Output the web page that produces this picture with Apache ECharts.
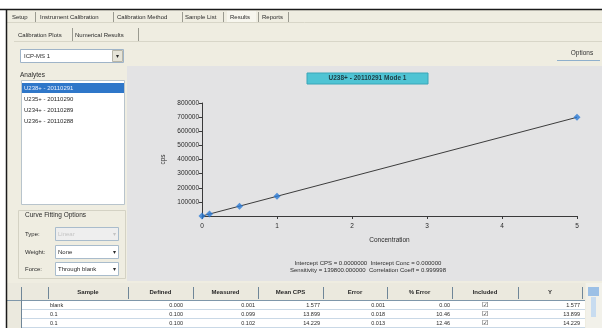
<!DOCTYPE html>
<html>
<head>
<meta charset="utf-8">
<script src="https://cdn.jsdelivr.net/npm/echarts@6/dist/echarts.min.js"></script>
<style>
  html, body { margin: 0; padding: 0; background: #ffffff; }
  #chart { width: 602px; height: 328px; }
</style>
</head>
<body>
<div id="chart"></div>
<script>
// Calibration standards: concentration vs. mean counts per second
const standardConc = [0, 0.1, 0.5, 1, 5];
const standardCps = [1.577, 13899, 69800, 139400, 699000];

// Fitted calibration line (through blank) drawn across the concentration range
const fitConc = [0, 5];
const fitCps = [0, 699000];

// Axis ticks
const xTicks = [0, 1, 2, 3, 4, 5];
const yTicks = [0, 100000, 200000, 300000, 400000, 500000, 600000, 700000, 800000];

// Window text
const mainTabs = ['Setup', 'Instrument Calibration', 'Calibration Method', 'Sample List', 'Results', 'Reports'];
const subTabs = ['Calibration Plots', 'Numerical Results'];
const analytes = ['U238+ - 20110291', 'U235+ - 20110290', 'U234+ - 20110289', 'U236+ - 20110288'];
const plotTitle = 'U238+ - 20110291 Mode 1';
const fitLines = [
  'Intercept CPS = 0.0000000  Intercept Conc = 0.000000',
  'Sensitivity = 139800.000000  Correlation Coeff = 0.999998'
];

// Numerical results table
const tableHeaders = ['Sample', 'Defined', 'Measured', 'Mean CPS', 'Error', '% Error', 'Included', 'Y'];
const tableSamples = ['blank', '0.1', '0.1'];
const tableDefined = ['0.000', '0.100', '0.100'];
const tableMeasured = ['0.001', '0.099', '0.102'];
const tableMeanCps = ['1.577', '13.899', '14.229'];
const tableError = ['0.001', '0.018', '0.013'];
const tablePctError = ['0.00', '10.46', '12.46'];
const tableY = ['1.577', '13.899', '14.229'];

const FONT = 'Liberation Sans';
const g = [];
function rect(x, y, w, h, fill, stroke, z) {
  g.push({ type: 'rect', shape: { x: x, y: y, width: w, height: h }, z: z == null ? -5 : z,
    style: { fill: fill || 'none', stroke: stroke || 'none', lineWidth: 1 }, silent: true });
}
function line(x1, y1, x2, y2, color, w, z) {
  g.push({ type: 'line', shape: { x1: x1, y1: y1, x2: x2, y2: y2 }, z: z == null ? -4 : z,
    style: { stroke: color, lineWidth: w || 1 }, silent: true });
}
function txt(x, y, s, opt) {
  opt = opt || {};
  g.push({ type: 'text', x: x, y: y, z: 20, silent: true,
    style: { text: s, fill: opt.color || '#2a2a2a', font: (opt.bold ? 'bold ' : '') + (opt.size || 7) + 'px ' + FONT,
      textAlign: opt.align || 'left', textVerticalAlign: 'middle' } });
}

// Window frame and background
rect(0, 0, 602, 328, '#ffffff', null, -10);
rect(7, 10, 595, 318, '#efede1', null, -9);
line(0, 9.5, 602, 9.5, '#1a1a1a', 1.5, -3);
line(6.5, 9, 6.5, 328, '#1a1a1a', 1.5, -3);

// Main tabs
const tabX = [12, 40, 117, 185, 230, 262];
const tabSep = [35, 113, 182, 223, 258, 288];
mainTabs.forEach(function (t, i) {
  if (i === 4) rect(tabX[i] - 3, 11, tabSep[i] - tabX[i] + 1, 12, '#f7f6ee', null, -6);
  txt(tabX[i], 17, t, { size: 6 });
  line(tabSep[i] + 0.5, 12, tabSep[i] + 0.5, 22, '#9a9a90');
});
line(7, 22.5, 602, 22.5, '#d8d6c8');

// Sub tabs
const subX = [18, 75];
const subSep = [72, 138];
subTabs.forEach(function (t, i) {
  txt(subX[i], 35, t, { size: 6 });
  line(subSep[i] + 0.5, 28, subSep[i] + 0.5, 41, '#9a9a90');
});
line(14, 41.5, 602, 41.5, '#d8d6c8');

// Instrument selector
rect(20.5, 49.5, 103, 13, '#ffffff', '#9fb4c8');
rect(112.5, 50.5, 10, 11, '#e6e4d8', '#b8b6a8');
txt(24, 56, 'ICP-MS 1', { size: 6 });
txt(117.5, 56, '▾', { size: 6, align: 'center' });

// Options button on the right
txt(582, 53, 'Options', { size: 6.5, align: 'center', color: '#333333' });
line(557, 60.5, 600, 60.5, '#8fb0cc');

// Plot panel
rect(127, 66, 475, 215, '#e3e3e4', null, -8);

// Analyte list
txt(20, 75, 'Analytes', { size: 6.5 });
rect(21.5, 80.5, 103, 124, '#ffffff', '#b8c4cc');
rect(22, 83, 102, 10, '#2f77c9', null, -4);
analytes.forEach(function (a, i) {
  txt(24, 88 + i * 11, a, { size: 6, color: i === 0 ? '#e8f0ff' : '#2a2a2a' });
});

// Curve fitting options
rect(18.5, 210.5, 107, 68, 'none', '#d4d2c4');
txt(25, 215, 'Curve Fitting Options', { size: 6.5 });
const fitLabels = ['Type:', 'Weight:', 'Force:'];
const fitValues = ['Linear', 'None', 'Through blank'];
[234, 252, 269].forEach(function (y, i) {
  txt(25, y, fitLabels[i], { size: 6 });
  rect(55.5, y - 6.5, 63, 13, i === 0 ? '#eeeeee' : '#ffffff', '#a9bccc');
  txt(58, y, fitValues[i], { size: 6, color: i === 0 ? '#c4c4c4' : '#2a2a2a' });
  txt(114, y, '▾', { size: 6, align: 'center', color: i === 0 ? '#c4c4c4' : '#2a2a2a' });
});

// Plot title box
rect(307, 73, 121, 11, '#4fc4d4', '#3aa6b8', -2);
txt(367.5, 78.5, plotTitle, { size: 6.5, bold: true, align: 'center', color: '#1e3c44' });

// Fit statistics below the plot
fitLines.forEach(function (s, i) {
  txt(368, 263 + i * 7, s, { size: 6, align: 'center', color: '#2c2c2c' });
});

// Results table
rect(7, 283, 578, 45, '#ffffff', null, -7);
rect(7, 283, 578, 17, '#ebe9de', null, -6);
rect(7, 300, 14, 28, '#ebe9de', null, -6);
line(7, 300.5, 585, 300.5, '#7f97aa');
[309.5, 318.5, 327.5].forEach(function (y) { line(21, y, 585, y, '#c9d8e6'); });
const colEdges = [21, 48, 128, 193, 258, 323, 387, 452, 518, 582];
colEdges.forEach(function (x) { line(x + 0.5, 287, x + 0.5, x === 21 ? 328 : 299, '#6f8698'); });
tableHeaders.forEach(function (h, i) {
  txt((colEdges[i + 1] + colEdges[i + 2]) / 2, 292, h, { size: 6, bold: true, align: 'center' });
});
const rowsY = [305, 314, 323];
tableSamples.forEach(function (s, r) {
  const y = rowsY[r];
  txt(50, y, s, { size: 5.5 });
  txt(183, y, tableDefined[r], { size: 5.5, align: 'right' });
  txt(255, y, tableMeasured[r], { size: 5.5, align: 'right' });
  txt(320, y, tableMeanCps[r], { size: 5.5, align: 'right' });
  txt(385, y, tableError[r], { size: 5.5, align: 'right' });
  txt(450, y, tablePctError[r], { size: 5.5, align: 'right' });
  txt(485, y, '☑', { size: 6.5, align: 'center' });
  txt(580, y, tableY[r], { size: 5.5, align: 'right' });
});
// Scrollbar
rect(586, 283, 16, 45, '#f2f1ea', null, -6);
rect(588, 287, 11, 9, '#9cc0e6', null, -5);
rect(591, 297, 5, 20, '#c8dcf0', null, -5);

const chart = echarts.init(document.getElementById('chart'), null, { renderer: 'canvas' });
chart.setOption({
  animation: false,
  backgroundColor: 'transparent',
  textStyle: { fontFamily: FONT },
  graphic: { elements: g },
  grid: { left: 202, right: 25, top: 103, bottom: 112, containLabel: false },
  xAxis: {
    type: 'value',
    min: xTicks[0], max: xTicks[xTicks.length - 1], interval: 1,
    name: 'Concentration', nameLocation: 'middle', nameGap: 21,
    nameTextStyle: { fontSize: 6.5, color: '#2a2a2a' },
    axisLine: { show: true, onZero: false, lineStyle: { color: '#3a3a3a', width: 1 } },
    axisTick: { show: true, length: 3, lineStyle: { color: '#3a3a3a' } },
    axisLabel: { fontSize: 6.5, color: '#2a2a2a', margin: 7 },
    splitLine: { show: false }
  },
  yAxis: {
    type: 'value',
    min: yTicks[0], max: yTicks[yTicks.length - 1], interval: 100000,
    name: 'cps', nameLocation: 'middle', nameGap: 34, nameRotate: 90,
    nameTextStyle: { fontSize: 6.5, color: '#2a2a2a' },
    axisLine: { show: true, lineStyle: { color: '#3a3a3a', width: 1 } },
    axisTick: { show: true, length: 3, lineStyle: { color: '#3a3a3a' } },
    axisLabel: { fontSize: 6.5, color: '#2a2a2a', margin: 3, showMinLabel: false,
      formatter: function (v) { return String(v); } },
    splitLine: { show: false }
  },
  series: [
    {
      type: 'line',
      data: fitConc.map(function (x, i) { return [x, fitCps[i]]; }),
      showSymbol: false,
      lineStyle: { color: '#3c3c3c', width: 1 },
      z: 3
    },
    {
      type: 'scatter',
      data: standardConc.map(function (x, i) { return [x, standardCps[i]]; }),
      symbol: 'diamond',
      symbolSize: 7,
      itemStyle: { color: '#2b7bd6' },
      z: 4
    }
  ]
});
</script>
</body>
</html>
